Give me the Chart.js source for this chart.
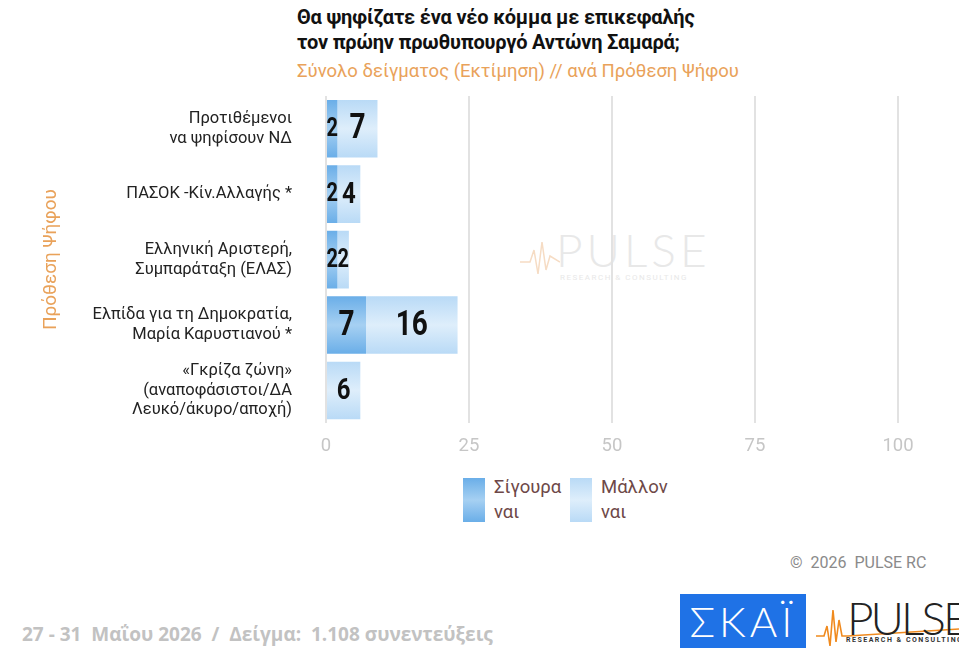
<!DOCTYPE html>
<html>
<head>
<meta charset="utf-8">
<script src="https://cdn.jsdelivr.net/npm/chart.js@4/dist/chart.umd.min.js"></script>
<style>
  body { margin: 0; width: 959px; height: 648px; background: #fff; position: relative; overflow: hidden; font-family: Roboto, sans-serif; }
  #title { position: absolute; left: 297px; top: 5px; font-weight: bold; font-size: 20px; line-height: 25px; color: #111; letter-spacing: -0.2px; }
  #subtitle { position: absolute; left: 297px; top: 60px; font-size: 18.5px; color: #e9a25a; }
  #wrap { position: absolute; left: 0; top: 0; width: 959px; height: 469px; }
  #watermark { position: absolute; left: 520px; top: 222px; color: #e8e8e8; }
  #watermark .big { font-family: Lato, sans-serif; font-weight: 300; font-size: 46px; letter-spacing: 4px; margin-left: 36px; }
  #watermark .small { font-size: 8px; letter-spacing: 1.5px; margin-left: 40px; margin-top: -4px; }
  .leg { position: absolute; top: 478px; }
  .sw { position: absolute; top: 0; width: 22px; height: 44px; }
  .lt { position: absolute; top: -3px; font-size: 18.5px; line-height: 25px; color: #6e4848; white-space: nowrap; }
  #copy { position: absolute; left: 790px; top: 553px; font-size: 16px; color: #8a8a8a; }
  #footer { position: absolute; left: 22px; top: 621px; font-family: "Open Sans", sans-serif; font-weight: bold; font-size: 19px; color: #c2c2c2; white-space: pre; }
  #skai { position: absolute; left: 680px; top: 594px; width: 126px; height: 54px; background: #1f72e6; color: #fff; font-family: Lato, sans-serif; font-weight: 300; font-size: 42px; line-height: 54px; text-align: center; letter-spacing: 4px; }
  #pulse { position: absolute; left: 816px; top: 596px; }
  #pulse .word { position: absolute; left: 31px; top: -6px; font-family: Lato, sans-serif; font-weight: 300; font-size: 46px; letter-spacing: -3px; color: #222; }
  #pulse .sub { position: absolute; left: 30px; top: 40px; font-size: 7px; font-weight: bold; letter-spacing: 1.5px; color: #333; white-space: nowrap; }
</style>
</head>
<body>
<div id="title">Θα ψηφίζατε ένα νέο κόμμα με επικεφαλής<br>τον πρώην πρωθυπουργό Αντώνη Σαμαρά;</div>
<div id="subtitle">Σύνολο δείγματος (Εκτίμηση) // ανά Πρόθεση Ψήφου</div>
<div id="watermark">
  <svg width="40" height="60" style="position:absolute;left:0;top:0"><polyline points="0,40 10,40 14,28 18,52 22,20 26,48 30,34 40,40" fill="none" stroke="#f6dcc4" stroke-width="1.5"/></svg>
  <div class="big">PULSE</div>
  <div class="small">RESEARCH &amp; CONSULTING</div>
</div>
<div id="wrap"><canvas id="chart"></canvas></div>
<div id="legend"></div>
<div id="copy">©&nbsp; 2026&nbsp; PULSE RC</div>
<div id="footer">27 - 31  Μαΐου 2026  /  Δείγμα:  1.108 συνεντεύξεις</div>
<div id="skai">ΣΚΑΪ</div>
<div id="pulse">
  <svg width="143" height="52" style="position:absolute;left:0;top:0">
    <polyline points="0,40 8,40 11,30 14,50 17,14 20,46 23,24 26,40 32,40 143,33" fill="none" stroke="#f08a1e" stroke-width="1.6"/>
  </svg>
  <div class="word">PULSE</div>
  <div class="sub">RESEARCH &amp; CONSULTING</div>
</div>
<script>
const categories = [
  ["Προτιθέμενοι", "να ψηφίσουν ΝΔ"],
  ["ΠΑΣΟΚ -Κίν.Αλλαγής *"],
  ["Ελληνική Αριστερή,", "Συμπαράταξη (ΕΛΑΣ)"],
  ["Ελπίδα για τη Δημοκρατία,", "Μαρία Καρυστιανού *"],
  ["«Γκρίζα ζώνη»", "(αναποφάσιστοι/ΔΑ", "Λευκό/άκυρο/αποχή)"]
];
const seriesNames = [["Σίγουρα", "ναι"], ["Μάλλον", "ναι"]];
const surelyYes = [2, 2, 2, 7, 0];
const probablyYes = [7, 4, 2, 16, 6];
const xTicks = [0, 25, 50, 75, 100];
const axisTitle = "Πρόθεση Ψήφου";

const palette = [
  { edge: '#6aaee8', mid: '#a6d0f2' },
  { edge: '#b9daf6', mid: '#deeefb' }
];

function barGradient(ctx, p) {
  const chart = ctx.chart;
  if (!chart.chartArea) return p.edge;
  const y = chart.scales.y;
  const yc = y.getPixelForValue(ctx.dataIndex);
  const h = (y.height / categories.length) * 0.88 / 2;
  const g = chart.ctx.createLinearGradient(0, yc - h, 0, yc + h);
  g.addColorStop(0, p.edge);
  g.addColorStop(0.5, p.mid);
  g.addColorStop(1, p.edge);
  return g;
}

// value labels inside the segments (narrowed digits)
const valueLabels = {
  id: 'valueLabels',
  afterDatasetsDraw(chart) {
    const c = chart.ctx;
    chart.data.datasets.forEach((ds, di) => {
      chart.getDatasetMeta(di).data.forEach((el, i) => {
        const v = ds.data[i];
        if (!v) return;
        const size = v <= 2 ? 25 : (v <= 6 ? 30 : 35);
        c.save();
        c.fillStyle = '#111';
        c.textAlign = 'center';
        c.textBaseline = 'middle';
        c.font = `bold ${size}px Roboto`;
        c.translate((el.x + el.base) / 2, el.y + 1);
        c.scale(0.8, 1);
        c.fillText(String(v), 0, 0);
        c.restore();
      });
    });
  }
};

new Chart(document.getElementById('chart'), {
  type: 'bar',
  data: {
    labels: categories,
    datasets: [
      { label: seriesNames[0].join(' '), data: surelyYes, backgroundColor: ctx => barGradient(ctx, palette[0]) },
      { label: seriesNames[1].join(' '), data: probablyYes, backgroundColor: ctx => barGradient(ctx, palette[1]) }
    ]
  },
  options: {
    indexAxis: 'y',
    responsive: true,
    maintainAspectRatio: false,
    animation: false,
    barPercentage: 0.88,
    categoryPercentage: 1,
    layout: { padding: { top: 96, right: 61, left: 40, bottom: 0 } },
    plugins: { legend: { display: false }, tooltip: { enabled: false } },
    scales: {
      x: {
        stacked: true,
        min: 0, max: 100,
        afterBuildTicks: s => { s.ticks = xTicks.map(v => ({ value: v })); },
        afterFit: s => { s.height = 39; },
        ticks: { color: '#c6c6c6', font: { size: 18.5, family: 'Roboto' }, padding: 12 },
        grid: { color: '#e2e2e2', lineWidth: 2, drawTicks: false },
        border: { display: false }
      },
      y: {
        stacked: true,
        afterFit: s => { s.width = 286; },
        ticks: { color: '#222', font: { size: 16.5, family: 'Roboto', lineHeight: 1.2 }, padding: 26 },
        grid: { display: false },
        border: { display: false },
        title: { display: true, text: axisTitle, color: '#e9a25a', font: { size: 19, family: 'Roboto' }, padding: 0 }
      }
    }
  },
  plugins: [valueLabels]
});

// legend built from the series names
const legend = document.getElementById('legend');
const legX = [463, 570];
seriesNames.forEach((name, i) => {
  const sw = document.createElement('div');
  sw.className = 'leg';
  sw.style.left = legX[i] + 'px';
  sw.innerHTML = `<div class="sw" style="background:linear-gradient(${palette[i].edge},${palette[i].mid},${palette[i].edge})"></div>` +
    `<div class="lt" style="left:31px">${name.join('<br>')}</div>`;
  legend.appendChild(sw);
});
</script>
</body>
</html>
